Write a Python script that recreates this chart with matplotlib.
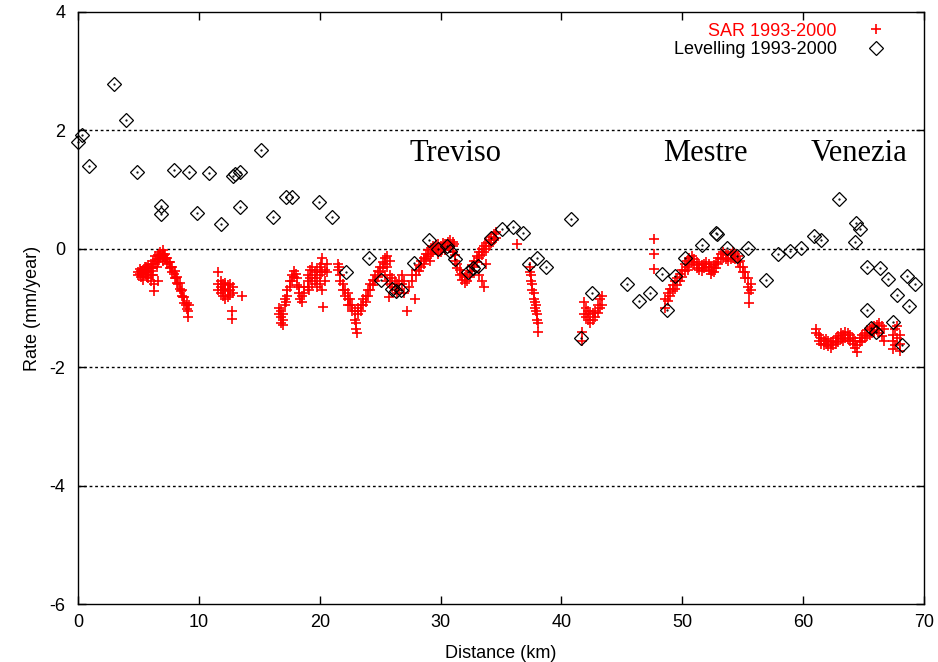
# SAR vs levelling subsidence rates along the Treviso - Venezia profile

import matplotlib.pyplot as plt

plt.rcParams['font.family'] = ['Liberation Sans', 'DejaVu Sans']
plt.rcParams['axes.unicode_minus'] = False

# levelling benchmarks: distance (km), rate (mm/year)
levelling = [(0.0, 1.80), (0.33, 1.92), (0.9, 1.40), (3.0, 2.79), (4.0, 2.18),
             (4.9, 1.30), (6.9, 0.73), (6.9, 0.59), (7.9, 1.33), (9.2, 1.30),
             (9.85, 0.61), (10.8, 1.28), (11.8, 0.42), (12.85, 1.23), (13.0, 1.26),
             (13.4, 1.30), (13.4, 0.71), (15.1, 1.67), (16.1, 0.54), (17.2, 0.88),
             (17.7, 0.88), (19.9, 0.79), (21.0, 0.54), (22.2, -0.40), (24.05, -0.16),
             (25.1, -0.52), (26.0, -0.68), (26.3, -0.72), (26.7, -0.70), (27.8, -0.24),
             (29.07, 0.15), (29.8, 0.00), (30.5, 0.05), (30.8, -0.03), (31.2, -0.17),
             (32.3, -0.40), (32.7, -0.32), (33.1, -0.29), (34.2, 0.19), (35.05, 0.33),
             (36.0, 0.36), (36.8, 0.26), (37.3, -0.25), (37.95, -0.15), (38.7, -0.30),
             (40.8, 0.50), (41.6, -1.50), (42.55, -0.74), (45.4, -0.59), (46.4, -0.88),
             (47.3, -0.75), (48.3, -0.43), (48.7, -1.03), (49.4, -0.46), (50.2, -0.15),
             (51.6, 0.06), (52.8, 0.27), (52.85, 0.25), (53.7, 0.01), (54.5, -0.12),
             (55.4, 0.02), (56.9, -0.52), (57.9, -0.09), (58.9, -0.03), (59.8, 0.01),
             (60.9, 0.21), (61.5, 0.15), (63.0, 0.84), (64.4, 0.43), (64.7, 0.34),
             (64.3, 0.12), (65.3, -0.30), (66.4, -0.33), (67.0, -0.51), (68.6, -0.46),
             (69.25, -0.60), (67.8, -0.78), (68.8, -0.97), (65.3, -1.03), (65.6, -1.34),
             (66.0, -1.40), (67.4, -1.23), (68.2, -1.62)]

# SAR rows: distance first, then every rate measured around that distance
sar_a = [(5.0, -0.40, -0.45), (5.1, -0.42, -0.34), (5.2, -0.38, -0.48), (5.3, -0.41),
         (5.4, -0.35, -0.45, -0.52), (5.5, -0.40, -0.30), (5.6, -0.30, -0.42), (5.7, -0.35, -0.48),
         (5.8, -0.28, -0.40, -0.50), (5.9, -0.33), (6.0, -0.25, -0.38, -0.55), (6.1, -0.30, -0.44),
         (6.2, -0.20, -0.32, -0.45), (6.3, -0.60, -0.72), (6.4, -0.12, -0.25), (6.5, -0.18, -0.30),
         (6.6, -0.10, -0.22, -0.55), (6.7, -0.12), (6.8, -0.05, -0.15), (6.9, -0.08),
         (7.0, -0.02, -0.12, -0.20), (7.1, -0.10), (7.2, -0.08, -0.18), (7.3, -0.16),
         (7.4, -0.15, -0.25), (7.5, -0.22), (7.6, -0.22, -0.32), (7.7, -0.30),
         (7.8, -0.30, -0.40), (7.9, -0.42), (8.0, -0.38, -0.50), (8.1, -0.50),
         (8.2, -0.48, -0.58), (8.3, -0.60), (8.4, -0.58, -0.68), (8.5, -0.72),
         (8.6, -0.70, -0.80), (8.7, -0.82), (8.8, -0.82, -0.92), (8.9, -0.95),
         (9.0, -0.92, -1.02), (9.1, -1.05, -1.15), (9.2, -0.95)]
sar_b = [(11.6, -0.40, -0.60, -0.70), (11.8, -0.55, -0.65, -0.75), (12.0, -0.60, -0.70, -0.80),
         (12.2, -0.58, -0.68, -0.85), (12.4, -0.62, -0.72, -0.82), (12.6, -0.60, -0.70, -0.78),
         (12.7, -1.05, -1.18), (12.8, -0.65, -0.75), (13.6, -0.80)]
sar_c = [(16.6, -1.00, -1.10), (16.8, -1.05, -1.15, -1.25), (17.0, -1.10, -1.20, -1.28),
         (17.1, -0.85, -0.95), (17.2, -0.90), (17.3, -0.70, -0.80), (17.5, -0.55, -0.65),
         (17.7, -0.45, -0.55), (17.9, -0.38, -0.48), (18.0, -0.42), (18.1, -0.50, -0.62),
         (18.3, -0.65, -0.75), (18.4, -0.85), (18.5, -0.80, -0.90), (18.7, -0.65, -0.75),
         (19.0, -0.45, -0.55, -0.65), (19.1, -0.70), (19.2, -0.35, -0.50),
         (19.4, -0.30, -0.45, -0.60), (19.6, -0.40, -0.55), (19.8, -0.35, -0.50, -0.65),
         (20.0, -0.30, -0.45, -0.60), (20.1, -0.25), (20.2, -0.15, -0.40, -0.70), (20.3, -0.98),
         (20.4, -0.35, -0.55), (20.6, -0.25, -0.40),
         (21.5, -0.25, -0.35), (21.6, -0.30), (21.7, -0.45, -0.55), (21.9, -0.60, -0.70),
         (22.1, -0.70, -0.80), (22.3, -0.75, -0.85, -0.95), (22.5, -0.85, -0.95),
         (22.7, -0.95, -1.05), (22.9, -1.05, -1.20), (23.0, -1.25, -1.35), (23.1, -1.42),
         (23.2, -1.00, -1.10), (23.4, -0.95, -1.05), (23.6, -0.85, -0.95), (23.8, -0.80, -0.90),
         (24.0, -0.70, -0.80), (24.2, -0.60, -0.70), (24.4, -0.52, -0.62), (24.6, -0.45, -0.55),
         (24.8, -0.38, -0.48), (25.0, -0.30, -0.40), (25.2, -0.22, -0.32),
         (25.4, -0.15, -0.25, -0.45), (25.6, -0.12, -0.30, -0.55), (25.7, -0.82),
         (25.8, -0.20, -0.45, -0.60), (26.0, -0.50, -0.65), (26.2, -0.55, -0.70),
         (26.4, -0.60, -0.75), (26.6, -0.55, -0.70), (26.8, -0.45, -0.60), (27.0, -0.55, -0.75),
         (27.2, -1.05), (27.4, -0.65), (27.6, -0.45, -0.55), (27.9, -0.85)]
sar_d = [(28.0, -0.35, -0.45), (28.2, -0.28, -0.38), (28.4, -0.20, -0.30), (28.6, -0.15, -0.25),
         (28.8, -0.08, -0.18), (29.0, -0.02, -0.12), (29.1, -0.20), (29.2, 0.02, -0.08),
         (29.4, 0.05, -0.05), (29.6, 0.06, -0.02), (29.8, 0.08, 0.00, -0.08), (30.0, 0.05, -0.05),
         (30.2, 0.10, 0.02), (30.4, 0.08, -0.02), (30.6, 0.12, 0.05), (30.8, 0.15, 0.02),
         (31.0, 0.12, 0.05, -0.05), (31.1, 0.08), (31.2, -0.10, -0.20), (31.4, -0.25, -0.32),
         (31.6, -0.35, -0.45), (31.8, -0.42, -0.52), (32.0, -0.48, -0.58), (32.2, -0.45, -0.55),
         (32.4, -0.38, -0.48), (32.6, -0.28, -0.38), (32.8, -0.20, -0.30), (33.0, -0.12, -0.22),
         (33.2, -0.05, -0.15, -0.45), (33.4, 0.00, -0.10, -0.55), (33.6, 0.05, -0.05, -0.65),
         (33.8, 0.10, 0.00, -0.25), (34.0, 0.15, 0.05), (34.2, 0.20, 0.10), (34.4, 0.25, 0.15),
         (34.6, 0.28, 0.18), (36.3, 0.08)]
sar_e = [(37.4, -0.30, -0.40), (37.5, -0.45, -0.55), (37.6, -0.60, -0.70), (37.7, -0.75, -0.85),
         (37.8, -0.90, -1.00), (37.9, -0.95, -1.05), (38.0, -1.10, -1.20), (38.1, -1.25, -1.40)]
sar_f = [(41.7, -1.40, -1.55), (41.9, -0.90, -1.10), (42.0, -1.00, -1.15), (42.2, -1.05, -1.20),
         (42.4, -1.10, -1.25), (42.6, -1.08, -1.20), (42.8, -1.05, -1.15), (43.0, -0.95, -1.08),
         (43.2, -0.85, -1.00), (43.4, -0.80, -0.95), (47.7, 0.17, -0.08, -0.34)]
sar_g = [(48.6, -0.85, -1.00), (48.8, -0.75, -0.88), (49.0, -0.68, -0.80), (49.2, -0.62, -0.72),
         (49.4, -0.55, -0.68), (49.6, -0.50, -0.62), (49.8, -0.42, -0.55), (50.0, -0.35, -0.48),
         (50.2, -0.25, -0.38), (50.4, -0.20, -0.30), (50.5, -0.35), (50.6, -0.15, -0.25),
         (50.8, -0.12, -0.22), (51.0, -0.18, -0.28), (51.2, -0.22, -0.32), (51.4, -0.25, -0.35),
         (51.6, -0.28, -0.38), (51.8, -0.25, -0.32), (52.0, -0.22, -0.30), (52.2, -0.25, -0.35),
         (52.4, -0.30, -0.42), (52.5, -0.38), (52.6, -0.28, -0.40), (52.8, -0.22, -0.32),
         (53.0, -0.15, -0.25), (53.2, -0.08, -0.18), (53.4, -0.05, -0.15), (53.6, -0.08, -0.18),
         (53.8, -0.10, -0.20), (54.0, -0.08, -0.18), (54.2, -0.05, -0.15), (54.4, -0.08, -0.18),
         (54.6, -0.12, -0.22), (54.8, -0.20, -0.30), (55.0, -0.30, -0.40), (55.2, -0.40, -0.50),
         (55.4, -0.50, -0.65), (55.5, -0.75, -0.92), (55.7, -0.60, -0.70)]
sar_h = [(61.1, -1.35, -1.42), (61.3, -1.45, -1.55), (61.5, -1.50, -1.60), (61.7, -1.55, -1.62),
         (61.9, -1.52, -1.60), (62.1, -1.55, -1.65), (62.3, -1.58, -1.68), (62.5, -1.55, -1.62),
         (62.7, -1.50, -1.60), (62.9, -1.48, -1.58), (63.1, -1.42, -1.52), (63.3, -1.45, -1.55),
         (63.5, -1.40, -1.50), (63.7, -1.42, -1.52), (63.9, -1.45, -1.55), (64.1, -1.50, -1.60),
         (64.3, -1.55, -1.68), (64.5, -1.62, -1.75), (64.7, -1.50, -1.58), (64.9, -1.45, -1.55),
         (65.1, -1.42, -1.50), (65.3, -1.38, -1.48), (65.5, -1.35, -1.45), (65.7, -1.32, -1.42),
         (65.9, -1.30, -1.40), (66.1, -1.28, -1.38), (66.3, -1.25, -1.42), (66.5, -1.30, -1.48),
         (66.7, -1.35, -1.55), (67.4, -1.45, -1.55, -1.70), (67.6, -1.35, -1.62),
         (67.8, -1.30, -1.50), (68.0, -1.45, -1.60, -1.72)]

# town names written over the profile
towns = ['Treviso', 'Mestre', 'Venezia']
town_km = [27.4, 48.4, 60.6]
town_rate = [1.48, 1.48, 1.48]

sar_rows = sar_a + sar_b + sar_c + sar_d + sar_e + sar_f + sar_g + sar_h
sar_km = [r[0] for r in sar_rows for _ in r[1:]]
sar_rate = [v for r in sar_rows for v in r[1:]]
lev_km = [p[0] for p in levelling]
lev_rate = [p[1] for p in levelling]

fig = plt.figure(figsize=(9.38, 6.62), dpi=100)
ax = fig.add_axes([0.0832, 0.0876, 0.9018, 0.8943])

ax.plot(sar_km, sar_rate, '+', color='#ff0000', ms=7.5, mew=1.2,
        label='SAR 1993-2000', zorder=3)
ax.plot(lev_km, lev_rate, 'D', mfc='none', mec='black', ms=7.5, mew=0.9,
        label='Levelling 1993-2000', zorder=4, clip_on=False)
ax.plot(lev_km, lev_rate, '.', color='black', ms=1.2, zorder=5, clip_on=False)

for name, x, y in zip(towns, town_km, town_rate):
    ax.text(x, y, name, family='Liberation Serif', fontsize=22, va='baseline')

ax.set_xlim(0, 70)
ax.set_ylim(-6, 4)
ax.set_xticks(range(0, 71, 10))
ax.set_yticks(range(-6, 5, 2))
ax.tick_params(direction='in', length=6, width=1, top=True, right=True,
               labelsize=13)
ax.tick_params(axis='y', pad=9)
ax.tick_params(axis='x', pad=7)
for s in ax.spines.values():
    s.set_linewidth(1)

for y in [-4, -2, 0, 2]:
    ax.axhline(y, color='black', lw=1, ls=(0, (2, 2)), zorder=1)

ax.set_xlabel('Distance (km)', fontsize=13, labelpad=10)
ax.set_ylabel('Rate (mm/year)', fontsize=13, labelpad=6)

leg = ax.legend(loc='upper right', bbox_to_anchor=(0.959, 0.982), frameon=False,
                markerfirst=False, fontsize=13, handlelength=1.5, handletextpad=1.4,
                labelspacing=0.07, borderpad=0, borderaxespad=0)
leg.get_texts()[0].set_color('#ff0000')

fig.savefig('out.png', dpi=100)
